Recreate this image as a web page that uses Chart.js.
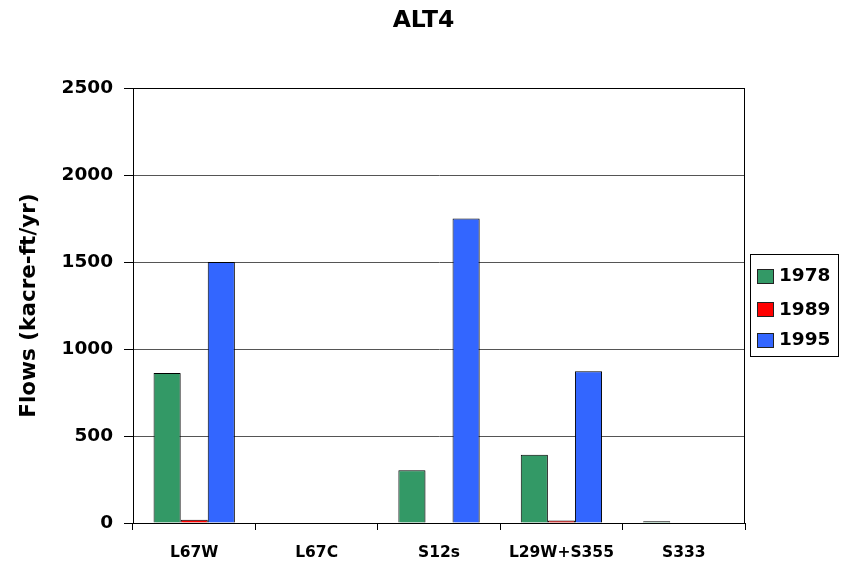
<!DOCTYPE html>
<html>
<head>
<meta charset="utf-8">
<title>ALT4</title>
<script src="https://cdn.jsdelivr.net/npm/chart.js@4.4.1/dist/chart.umd.min.js"></script>
<style>
  html, body { margin: 0; padding: 0; background: #fff; }
  #wrap { width: 847px; height: 565px; }
</style>
</head>
<body>
<div id="wrap"><canvas id="c" width="847" height="565"></canvas></div>
<script>
// Annual flows by structure (kacre-ft/yr)
const chartTitle = 'ALT4';
const categories = ['L67W', 'L67C', 'S12s', 'L29W+S355', 'S333'];
const seriesNames = ['1978', '1989', '1995'];
const flows1978 = [862, 0, 303, 392, 10];
const flows1989 = [18, 0, 0, 14, 0];
const flows1995 = [1500, 0, 1750, 872, 0];
const yTicks = [0, 500, 1000, 1500, 2000, 2500];

const seriesColors = ['#339966', '#FF0000', '#3366FF'];
const FONT = 'DejaVu Sans';

// Thin drop shadow behind the bars
const barShadow = {
  id: 'barShadow',
  beforeDatasetsDraw(chart) {
    const ctx = chart.ctx;
    ctx.save();
    ctx.shadowColor = 'rgba(0,0,0,0.18)';
    ctx.shadowOffsetX = 2;
    ctx.shadowOffsetY = 1;
    ctx.shadowBlur = 0;
  },
  afterDatasetsDraw(chart) {
    chart.ctx.restore();
  }
};

// Title centred on the page, frame around the plot area, boxed legend on the right
const frameAndLegend = {
  id: 'frameAndLegend',
  afterDraw(chart) {
    const ctx = chart.ctx;
    const a = chart.chartArea;
    ctx.save();

    ctx.fillStyle = '#000';
    ctx.font = 'bold 23.5px "' + FONT + '"';
    ctx.textAlign = 'center';
    ctx.textBaseline = 'middle';
    ctx.fillText(chartTitle, chart.width / 2, 21);

    ctx.strokeStyle = '#000';
    ctx.lineWidth = 1;
    ctx.strokeRect(Math.round(a.left) + 0.5, Math.round(a.top) + 0.5,
                   Math.round(a.right - a.left) - 1, Math.round(a.bottom - a.top));

    // legend box
    const bx = 750.5, by = 254.5, bw = 88, bh = 102;
    ctx.fillStyle = '#fff';
    ctx.fillRect(bx, by, bw, bh);
    ctx.strokeStyle = '#000';
    ctx.strokeRect(bx, by, bw, bh);

    const rowY = [275.5, 309, 339.5];
    ctx.font = 'bold 18.5px "' + FONT + '"';
    ctx.textBaseline = 'middle';
    ctx.textAlign = 'left';
    chart.data.datasets.forEach((ds, i) => {
      const cy = rowY[i];
      ctx.fillStyle = ds.backgroundColor;
      ctx.fillRect(757, Math.round(cy - 7), 16, 15);
      ctx.strokeStyle = '#222';
      ctx.strokeRect(757.5, Math.round(cy - 7) + 0.5, 16, 14);
      ctx.fillStyle = '#000';
      ctx.fillText(ds.label, 779, cy + 1);
    });
    ctx.restore();
  }
};

new Chart(document.getElementById('c'), {
  type: 'bar',
  data: {
    labels: categories,
    datasets: [
      { label: seriesNames[0], data: flows1978, backgroundColor: seriesColors[0] },
      { label: seriesNames[1], data: flows1989, backgroundColor: seriesColors[1] },
      { label: seriesNames[2], data: flows1995, backgroundColor: seriesColors[2] }
    ].map(d => Object.assign(d, {
      borderColor: '#000',
      borderWidth: 1,
      borderSkipped: 'bottom',
      categoryPercentage: 0.664,
      barPercentage: 1.0
    }))
  },
  options: {
    responsive: false,
    animation: false,
    devicePixelRatio: 1,
    layout: { padding: { left: 0, right: 102, top: 88, bottom: 0 } },
    plugins: {
      legend: { display: false },
      tooltip: { enabled: false },
      title: { display: false }
    },
    scales: {
      x: {
        offset: true,
        grid: {
          display: true,
          offset: true,
          drawOnChartArea: false,
          drawTicks: true,
          tickLength: 7,
          tickColor: '#000'
        },
        border: { display: true, color: '#000', width: 1 },
        ticks: {
          color: '#000',
          padding: 14,
          maxRotation: 0,
          autoSkip: false,
          font: { family: FONT, size: 15.5, weight: 'bold' }
        },
        afterFit(scale) { scale.height = 42; }
      },
      y: {
        min: 0,
        max: 2500,
        afterBuildTicks(scale) { scale.ticks = yTicks.map(v => ({ value: v })); },
        grid: {
          color: '#555',
          lineWidth: 1,
          drawTicks: true,
          tickLength: 9,
          tickColor: '#000'
        },
        border: { display: true, color: '#000', width: 1 },
        ticks: {
          color: '#000',
          padding: 11,
          font: { family: FONT, size: 18.5, weight: 'bold' },
          callback: (v) => String(v)
        },
        title: {
          display: true,
          text: 'Flows (kacre-ft/yr)',
          color: '#000',
          font: { family: FONT, size: 21.5, weight: 'bold' },
          padding: { top: 17, bottom: 0 }
        },
        afterFit(scale) { scale.width = 133; }
      }
    }
  },
  plugins: [barShadow, frameAndLegend]
});
</script>
</body>
</html>
